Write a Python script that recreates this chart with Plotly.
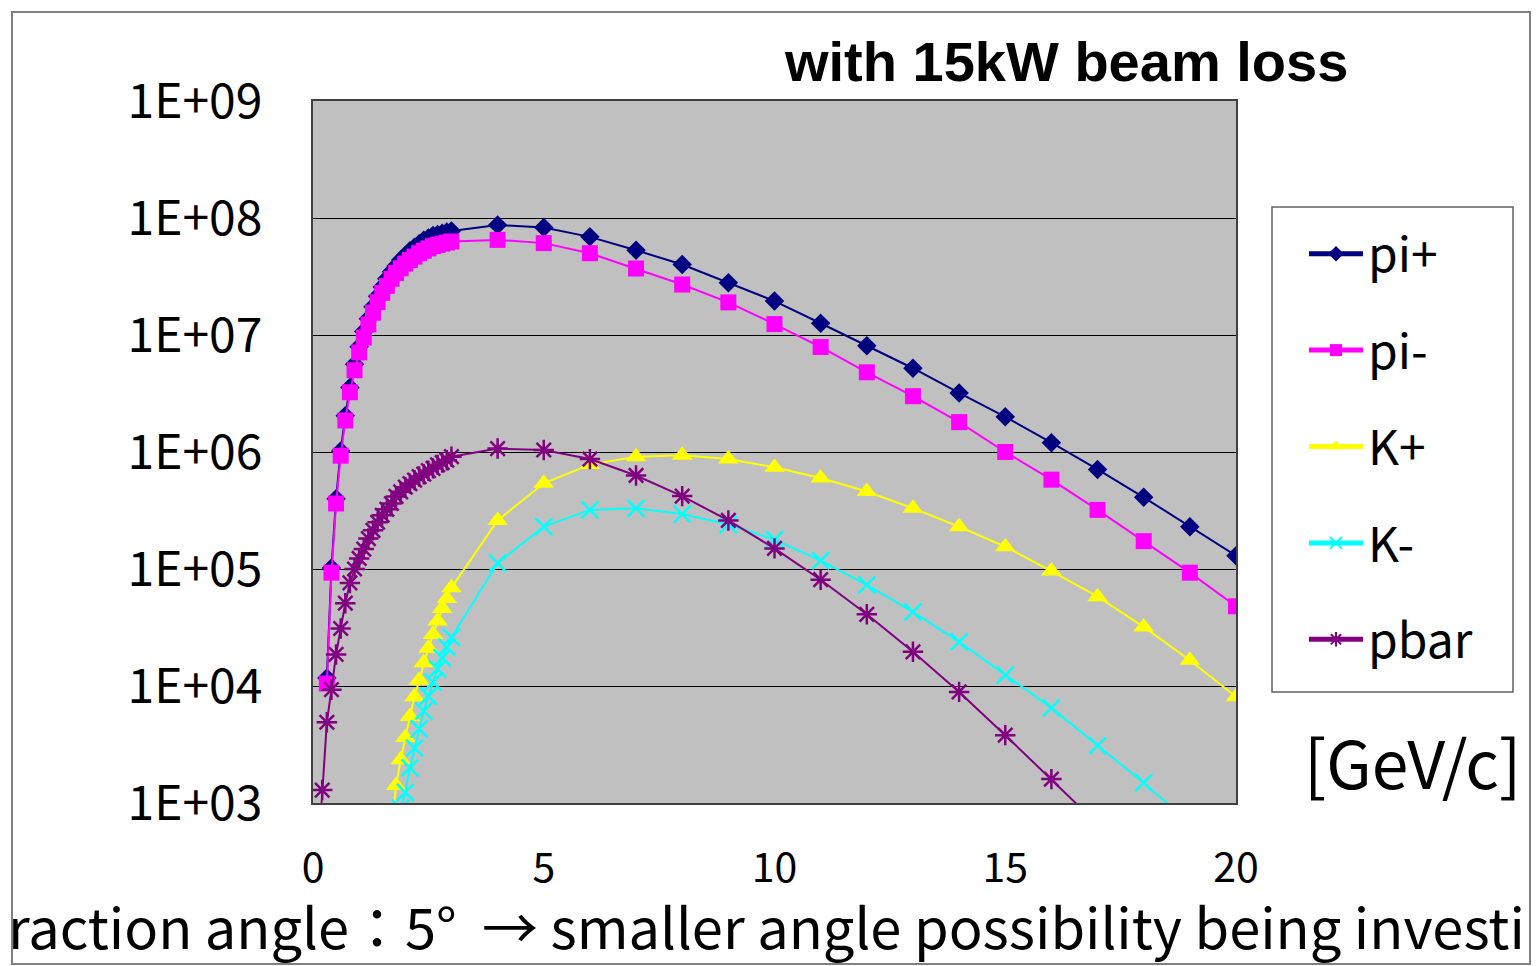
import plotly.graph_objects as go

# ---------------- data ----------------
# momentum [GeV/c]
P_PI = [0.3, 0.4, 0.5, 0.6, 0.7, 0.8, 0.9, 1.0, 1.1, 1.2, 1.3, 1.4, 1.5, 1.6, 1.7, 1.8,
        1.9, 2.0, 2.1, 2.2, 2.3, 2.4, 2.5, 2.6, 2.7, 2.8, 2.9, 3.0,
        4, 5, 6, 7, 8, 9, 10, 11, 12, 13, 14, 15, 16, 17, 18, 19, 20]

PI_PLUS = [1.17e4, 1.02e5, 3.98e5, 1.02e6, 2.04e6, 3.55e6, 5.62e6, 7.94e6, 1.07e7, 1.38e7,
           1.74e7, 2.14e7, 2.57e7, 3.02e7, 3.47e7, 3.89e7, 4.37e7, 4.79e7, 5.25e7, 5.62e7,
           6.03e7, 6.46e7, 6.76e7, 7.08e7, 7.24e7, 7.41e7, 7.59e7, 7.76e7,
           8.7e7, 8.3e7, 6.9e7, 5.3e7, 4.0e7, 2.8e7, 1.95e7, 1.26e7, 8.1e6, 5.2e6, 3.2e6,
           2.0e6, 1.2e6, 7.1e5, 4.1e5, 2.3e5, 1.3e5]

PI_MINUS = [1.05e4, 9.3e4, 3.63e5, 9.3e5, 1.86e6, 3.24e6, 5.0e6, 7.1e6, 9.5e6, 1.23e7,
            1.55e7, 1.91e7, 2.29e7, 2.63e7, 3.02e7, 3.39e7, 3.72e7, 4.07e7, 4.37e7, 4.68e7,
            5.0e7, 5.25e7, 5.5e7, 5.75e7, 5.89e7, 6.03e7, 6.17e7, 6.3e7,
            6.5e7, 6.1e7, 5.0e7, 3.7e7, 2.7e7, 1.9e7, 1.24e7, 7.9e6, 4.8e6, 3.0e6, 1.8e6,
            1.0e6, 5.8e5, 3.2e5, 1.73e5, 9.3e4, 4.8e4]

P_KPLUS = [1.7, 1.8, 1.9, 2.0, 2.1, 2.2, 2.3, 2.4, 2.5, 2.6, 2.7, 2.8, 2.9, 3.0,
           4, 5, 6, 7, 8, 9, 10, 11, 12, 13, 14, 15, 16, 17, 18, 19, 20]
K_PLUS = [6.0e2, 1.41e3, 2.34e3, 3.63e3, 5.5e3, 8.1e3, 1.12e4, 1.58e4, 2.1e4, 2.75e4,
          3.6e4, 4.6e4, 5.6e4, 6.9e4,
          2.6e5, 5.4e5, 7.8e5, 9.1e5, 9.4e5, 8.7e5, 7.4e5, 6.0e5, 4.6e5, 3.3e5, 2.3e5,
          1.55e5, 9.6e4, 5.8e4, 3.2e4, 1.66e4, 8.1e3]

P_KMINUS = [1.9, 2.0, 2.1, 2.2, 2.3, 2.4, 2.5, 2.6, 2.7, 2.8, 2.9, 3.0,
            4, 5, 6, 7, 8, 9, 10, 11, 12, 13, 14, 15, 16, 17, 18, 19]
K_MINUS = [9.0e2, 1.23e3, 2.0e3, 2.95e3, 4.3e3, 6.1e3, 8.2e3, 1.08e4, 1.40e4, 1.74e4,
           2.15e4, 2.6e4,
           1.12e5, 2.3e5, 3.2e5, 3.3e5, 2.95e5, 2.4e5, 1.78e5, 1.18e5, 7.3e4, 4.3e4,
           2.38e4, 1.24e4, 6.5e3, 3.1e3, 1.49e3, 6.7e2]

P_PBAR = [0.1, 0.2, 0.3, 0.4, 0.5, 0.6, 0.7, 0.8, 0.9, 1.0, 1.1, 1.2, 1.3, 1.4, 1.5, 1.6,
          1.7, 1.8, 1.9, 2.0, 2.1, 2.2, 2.3, 2.4, 2.5, 2.6, 2.7, 2.8, 2.9, 3.0,
          4, 5, 6, 7, 8, 9, 10, 11, 12, 13, 14, 15, 16, 17]
PBAR = [3.0e2, 1.29e3, 4.9e3, 9.3e3, 1.86e4, 3.1e4, 5.1e4, 7.6e4, 1.0e5, 1.23e5, 1.48e5,
        1.82e5, 2.14e5, 2.51e5, 2.88e5, 3.24e5, 3.63e5, 4.17e5, 4.57e5, 5.0e5, 5.37e5,
        5.75e5, 6.17e5, 6.46e5, 6.92e5, 7.24e5, 7.76e5, 8.13e5, 8.51e5, 9.12e5,
        1.07e6, 1.04e6, 8.7e5, 6.3e5, 4.2e5, 2.6e5, 1.5e5, 8.1e4, 4.1e4, 1.96e4, 8.9e3,
        3.8e3, 1.6e3, 6.6e2]

SERIES_NAMES = ["pi+", "pi-", "K+", "K-", "pbar"]

X_TICK_VALUES = [0, 5, 10, 15, 20]
Y_TICK_VALUES = [1e3, 1e4, 1e5, 1e6, 1e7, 1e8, 1e9]
Y_TICK_LABELS = ["1E+03", "1E+04", "1E+05", "1E+06", "1E+07", "1E+08", "1E+09"]

TITLE_TEXT = "with 15kW beam loss"
UNIT_TEXT = "[GeV/c]"
BOTTOM_TEXT = "raction angle：5°  → smaller angle possibility being investi"

# ---------------- figure ----------------
W, H = 1537, 966
L, R, T, B = 313, 1236, 101, 803
PW, PH = R - L, B - T


def px_x(x):
    return (x - L) / PW


def px_y(y):
    return (B - y) / PH


JP = "Noto Sans CJK JP"

styles = [
    dict(color="#000080", symbol="diamond", size=15, lw=0),
    dict(color="#FF00FF", symbol="square", size=16, lw=0),
    dict(color="#FFFF00", symbol="triangle-up", size=18, lw=0),
    dict(color="#00FFFF", symbol="x-thin-open", size=17, lw=2.5),
    dict(color="#800080", symbol="asterisk-open", size=17, lw=2.5),
]
xs = [P_PI, P_PI, P_KPLUS, P_KMINUS, P_PBAR]
ys = [PI_PLUS, PI_MINUS, K_PLUS, K_MINUS, PBAR]

fig = go.Figure()
for i, (name, st) in enumerate(zip(SERIES_NAMES, styles)):
    fig.add_trace(go.Scatter(
        x=xs[i], y=ys[i], name=name, mode="lines+markers",
        legendgroup=name,
        line=dict(color=st["color"], width=2),
        marker=dict(symbol=st["symbol"], size=st["size"], color=st["color"],
                    line=dict(color=st["color"], width=st["lw"])),
    ))

fig.update_layout(
    width=W, height=H,
    margin=dict(l=L, r=W - R, t=T, b=H - B),
    paper_bgcolor="white",
    plot_bgcolor="#C0C0C0",
    showlegend=True,
    legend=dict(
        x=px_x(1304), y=px_y(216), xanchor="left", yanchor="top",
        bgcolor="rgba(0,0,0,0)", borderwidth=0,
        font=dict(family=JP, size=48, color="black"),
        tracegroupgap=31, itemwidth=54, itemsizing="constant",
    ),
    xaxis=dict(
        range=[0, 20], tickvals=X_TICK_VALUES, showgrid=False, zeroline=False,
        showline=True, linecolor="#404040", linewidth=2, mirror=True,
        ticks="", ticklabelstandoff=28,
        tickfont=dict(family=JP, size=41, color="black"),
    ),
    yaxis=dict(
        type="log", range=[3, 9], tickvals=Y_TICK_VALUES, ticktext=Y_TICK_LABELS,
        showgrid=True, gridcolor="#000000", gridwidth=1, zeroline=False,
        showline=True, linecolor="#404040", linewidth=2, mirror=True,
        ticks="", ticklabelstandoff=39,
        tickfont=dict(family=JP, size=48, color="black"),
    ),
    shapes=[
        dict(type="rect", xref="paper", yref="paper",
             x0=px_x(12), x1=px_x(1530), y0=px_y(964), y1=px_y(12),
             line=dict(color="#808080", width=2), fillcolor="rgba(0,0,0,0)",
             layer="below"),
        dict(type="rect", xref="paper", yref="paper",
             x0=px_x(1272), x1=px_x(1513), y0=px_y(692), y1=px_y(207),
             line=dict(color="#606060", width=1.5), fillcolor="white",
             layer="below"),
    ],
    annotations=[
        dict(text="<b>" + TITLE_TEXT + "</b>", xref="paper", yref="paper",
             x=px_x(1066), y=px_y(62), xanchor="center", yanchor="middle",
             showarrow=False, font=dict(family="Liberation Sans", size=56, color="black")),
        dict(text=UNIT_TEXT, xref="paper", yref="paper",
             x=px_x(1412), y=px_y(760), xanchor="center", yanchor="middle",
             showarrow=False, font=dict(family=JP, size=66, color="black")),
        dict(text=BOTTOM_TEXT, xref="paper", yref="paper",
             x=px_x(766), y=px_y(924), xanchor="center", yanchor="middle",
             showarrow=False, font=dict(family=JP, size=56, color="black")),
    ],
)

fig.write_html("out.html")
